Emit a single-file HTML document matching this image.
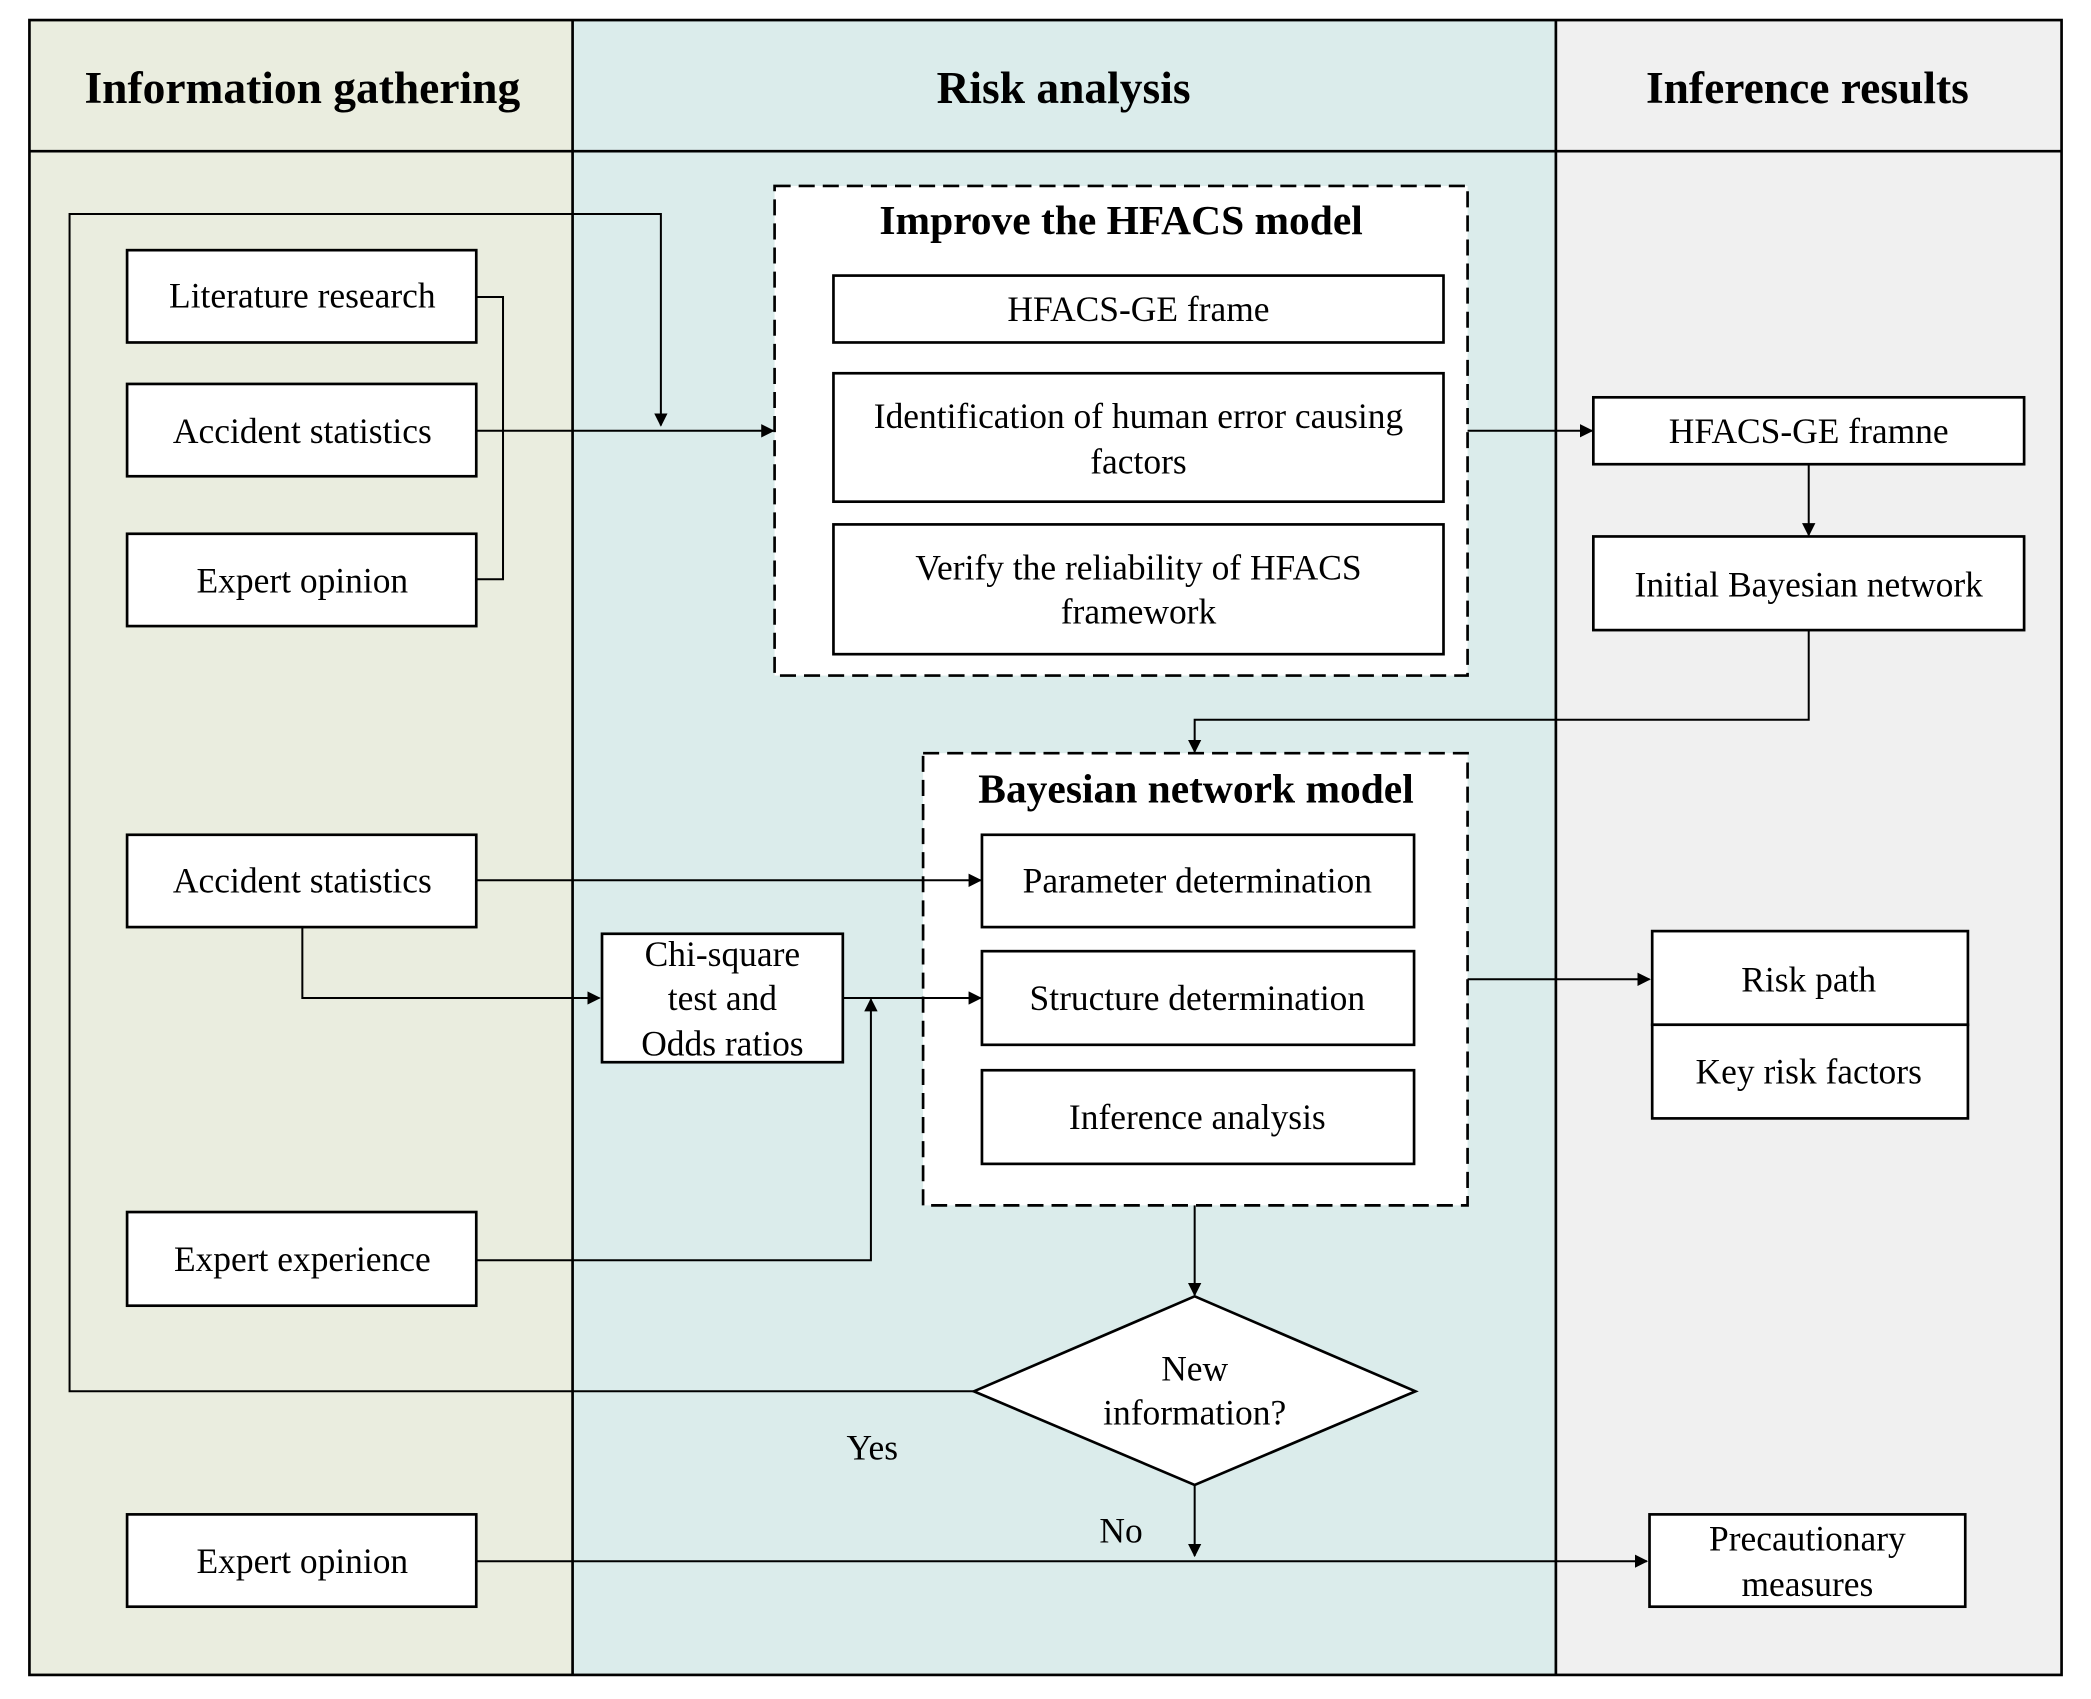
<!DOCTYPE html>
<html><head><style>html,body{margin:0;padding:0;background:#fff}svg{display:block}</style></head>
<body>
<svg width="2091" height="1699" viewBox="0 0 1563 1270" preserveAspectRatio="none" xmlns="http://www.w3.org/2000/svg" font-family="Liberation Serif, serif">
<defs><marker id="a" markerWidth="10" markerHeight="10" refX="9" refY="5" orient="auto" markerUnits="userSpaceOnUse"><path d="M0,0 L10,5 L0,10 z" fill="#000"/></marker></defs>
<rect x="22" y="15" width="406" height="1237" fill="#eaeddf"/>
<rect x="428" y="15" width="735" height="1237" fill="#dbeceb"/>
<rect x="1163" y="15" width="378" height="1237" fill="#f0f0f0"/>
<g stroke="#000" stroke-width="2" fill="none">
<rect x="22" y="15" width="1519" height="1237"/>
<line x1="22" y1="113" x2="1541" y2="113"/>
<line x1="428" y1="15" x2="428" y2="1252"/>
<line x1="1163" y1="15" x2="1163" y2="1252"/>
</g>
<g font-weight="bold" font-size="34" text-anchor="middle">
<text x="226" y="77">Information gathering</text>
<text x="795" y="77">Risk analysis</text>
<text x="1351" y="77">Inference results</text>
</g>
<g stroke="#000" stroke-width="2" fill="#fff">
<rect x="579" y="139" width="518" height="366" stroke-dasharray="12,6"/>
<rect x="690" y="563" width="407" height="338" stroke-dasharray="12,6"/>
</g>
<g stroke="#000" stroke-width="1.5" fill="none">
<polyline points="728,1040 52,1040 52,160 494,160 494,318" marker-end="url(#a)"/>
<polyline points="356,222 376,222 376,433 356,433"/>
<line x1="356" y1="322" x2="578" y2="322" marker-end="url(#a)"/>
<line x1="1097" y1="322" x2="1190" y2="322" marker-end="url(#a)"/>
<line x1="1352" y1="347" x2="1352" y2="400" marker-end="url(#a)"/>
<polyline points="1352,471 1352,538 893,538 893,562" marker-end="url(#a)"/>
<line x1="356" y1="658" x2="733" y2="658" marker-end="url(#a)"/>
<polyline points="226,693 226,746 448,746" marker-end="url(#a)"/>
<line x1="630" y1="746" x2="733" y2="746" marker-end="url(#a)"/>
<polyline points="356,942 651,942 651,747" marker-end="url(#a)"/>
<line x1="1097" y1="732" x2="1233" y2="732" marker-end="url(#a)"/>
<line x1="893" y1="901" x2="893" y2="968" marker-end="url(#a)"/>
<line x1="893" y1="1110" x2="893" y2="1163" marker-end="url(#a)"/>
<line x1="356" y1="1167" x2="1231" y2="1167" marker-end="url(#a)"/>
</g>
<g stroke="#000" stroke-width="2" fill="#fff">
<rect x="95" y="187" width="261" height="69"/>
<rect x="95" y="287" width="261" height="69"/>
<rect x="95" y="399" width="261" height="69"/>
<rect x="95" y="624" width="261" height="69"/>
<rect x="95" y="906" width="261" height="70"/>
<rect x="95" y="1132" width="261" height="69"/>
<rect x="623" y="206" width="456" height="50"/>
<rect x="623" y="279" width="456" height="96"/>
<rect x="623" y="392" width="456" height="97"/>
<rect x="1191" y="297" width="322" height="50"/>
<rect x="1191" y="401" width="322" height="70"/>
<rect x="734" y="624" width="323" height="69"/>
<rect x="734" y="711" width="323" height="70"/>
<rect x="734" y="800" width="323" height="70"/>
<rect x="450" y="698" width="180" height="96"/>
<rect x="1235" y="696" width="236" height="70"/>
<rect x="1235" y="766" width="236" height="70"/>
<rect x="1233" y="1132" width="236" height="69"/>
<polygon points="893,969 1058,1040 893,1110 728,1040"/>
</g>
<g font-weight="bold" font-size="31" text-anchor="middle">
<text x="838" y="175">Improve the HFACS model</text>
<text x="894" y="600">Bayesian network model</text>
</g>
<g font-size="26.5" text-anchor="middle">
<text x="226" y="230">Literature research</text>
<text x="226" y="331">Accident statistics</text>
<text x="226" y="443">Expert opinion</text>
<text x="226" y="667">Accident statistics</text>
<text x="226" y="950">Expert experience</text>
<text x="226" y="1176">Expert opinion</text>
<text x="851" y="240">HFACS-GE frame</text>
<text x="851" y="320">Identification of human error causing</text>
<text x="851" y="354">factors</text>
<text x="851" y="433">Verify the reliability of HFACS</text>
<text x="851" y="466">framework</text>
<text x="1352" y="331">HFACS-GE framne</text>
<text x="1352" y="446">Initial Bayesian network</text>
<text x="895" y="667">Parameter determination</text>
<text x="895" y="755">Structure determination</text>
<text x="895" y="844">Inference analysis</text>
<text x="540" y="722">Chi-square</text>
<text x="540" y="755">test and</text>
<text x="540" y="789">Odds ratios</text>
<text x="1352" y="741">Risk path</text>
<text x="1352" y="810">Key risk factors</text>
<text x="1351" y="1159">Precautionary</text>
<text x="1351" y="1193">measures</text>
<text x="893" y="1032">New</text>
<text x="893" y="1065">information?</text>
<text x="652" y="1091">Yes</text>
<text x="838" y="1153">No</text>
</g>
</svg>
</body></html>
